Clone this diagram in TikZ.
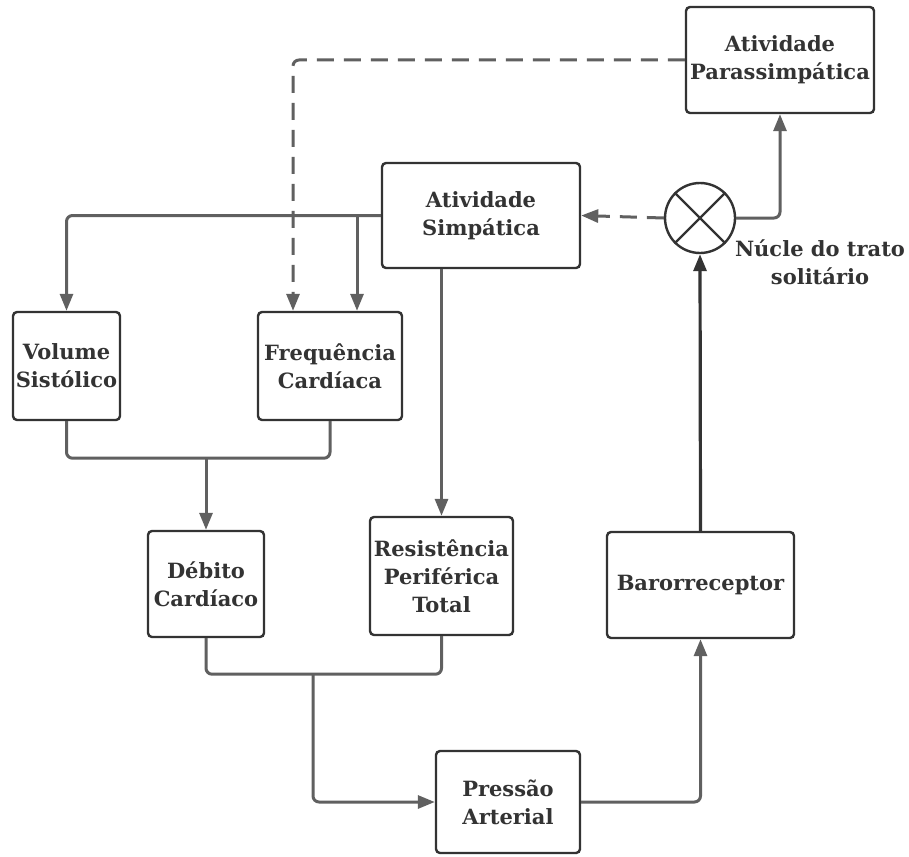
\documentclass[tikz,border=0pt]{standalone}
\usepackage{fontspec}
\setmainfont{DejaVu Serif}
\usetikzlibrary{arrows.meta}
\definecolor{boxline}{HTML}{333333}
\definecolor{wire}{HTML}{606060}
\definecolor{ink}{HTML}{333333}
\tikzset{
  lbl/.style={text=ink, align=center, font=\fontsize{21}{28}\selectfont\bfseries},
  blk/.style={lbl, draw=boxline, line width=2.4pt, rounded corners=4pt, fill=white,
    inner sep=0pt},
  tip/.style={-{Triangle[length=17pt,width=13pt]}},
  conn/.style={draw=wire, line width=3pt, rounded corners=6pt, tip},
  wirebare/.style={draw=wire, line width=3pt, rounded corners=6pt},
  dashconn/.style={conn, dash pattern=on 17pt off 10pt},
}
\begin{document}
\begin{tikzpicture}[x=1pt,y=-1pt]
\useasboundingbox (0,0) rectangle (909,856);
\fill[white] (0,0) rectangle (909,856);

% blocks
\node[blk, minimum width=188pt, minimum height=106pt] (para) at (780,60) {Atividade\\Parassimpática};
\node[blk, minimum width=198pt, minimum height=105pt] (simp) at (481,215.5) {Atividade\\Simpática};
\node[blk, minimum width=107pt, minimum height=108pt] (vol) at (66.5,366) {Volume\\Sistólico};
\node[blk, minimum width=144pt, minimum height=108pt] (freq) at (330,366) {Frequência\\Cardíaca};
\node[blk, minimum width=116pt, minimum height=106pt] (deb) at (206,584) {Débito\\Cardíaco};
\node[blk, minimum width=143pt, minimum height=118pt] (res) at (441.5,576) {Resistência\\Periférica\\Total};
\node[blk, minimum width=144pt, minimum height=102pt] (pres) at (508,802) {Pressão\\Arterial};
\node[blk, minimum width=187pt, minimum height=106pt] (baro) at (700.5,585) {Barorreceptor};

% summing junction
\node[draw=boxline, line width=2.4pt, circle, minimum size=70pt, inner sep=0pt] (sum) at (700,218) {};
\draw[boxline, line width=2.4pt] (sum.north east) -- (sum.south west)
  (sum.north west) -- (sum.south east);
\node[lbl] (nts) at (820,262) {Núcle do trato\\solitário};

% sympathetic outputs
\draw[conn] (simp.west) -| (vol.north);
\coordinate (fq) at ([xshift=27pt]freq.north);
\draw[conn] (fq |- simp.west) -- (fq);
\draw[conn] (res.north |- simp.south) -- (res.north);

% parasympathetic output
\coordinate (fp) at ([xshift=-37pt]freq.north);
\draw[dashconn] (para.west) -| (fp);

% cardiac output
\coordinate (j1) at (206,457);
\draw[wirebare] (vol.south) -- ++(0,37) -| (freq.south);
\draw[conn] (j1) -- (deb.north);

% arterial pressure
\coordinate (j2) at (313,673);
\draw[wirebare] (deb.south) -- ++(0,36) -| (res.south);
\draw[conn] (j2) |- (pres.west);
\draw[conn] (pres.east) -| (baro.south);

% baroreflex loop
\draw[draw=boxline, line width=3.2pt, tip] (baro.north) -- (sum.south);
\draw[conn] (sum.east) -| (para.south);
\draw[dashconn] (sum.west) -- (simp.east);
\end{tikzpicture}
\end{document}
